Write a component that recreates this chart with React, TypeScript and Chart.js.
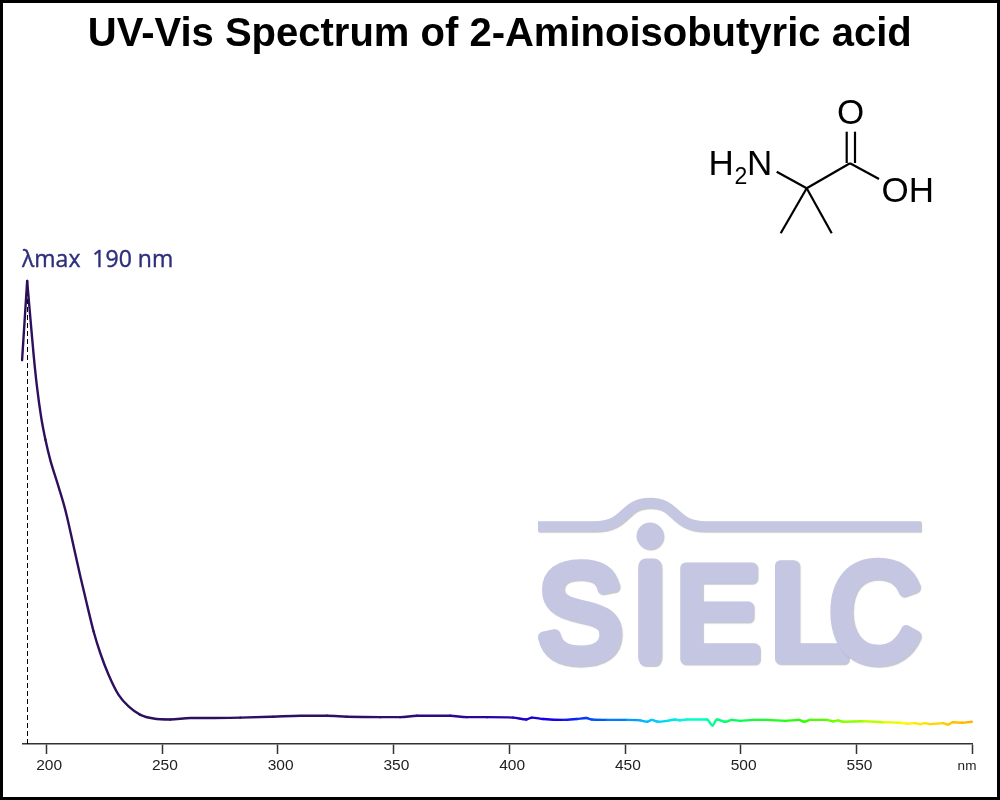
import React, { useEffect, useRef } from "react";
import { Chart, registerables } from "chart.js";

Chart.register(...registerables);

const TITLE = "UV-Vis Spectrum of 2-Aminoisobutyric acid";
const PEAK_LABEL = "λmax  190 nm";
const UNIT_LABEL = "nm";
const TICK_VALUES = [200, 250, 300, 350, 400, 450, 500, 550, 600];

const riseWavelengths = [189.5, 191.7];
const riseAbsorbance = [0.829, 1.0];

const wavelengths = [
  191.7, 193.1, 194.5, 196.0, 197.8, 199.6, 201.7, 204.6, 207.5, 208.9, 211.8, 214.7, 217.6, 220.4, 223.3,
  226.9, 231.2, 235.5, 240.6, 246.3, 253.5, 262.2, 269.4, 283.8, 298.0, 309.7, 321.2, 329.8, 344.2, 352.8, 360.1,
  374.4, 381.6, 390.3, 401.6, 407.3, 409.7, 414.6, 423.2, 429.1, 433.2, 435.6, 442.1, 450.7, 456.5, 459.6, 461.5,
  464.2, 468.0, 471.6, 473.7, 476.6, 485.3, 487.7, 489.6, 493.2, 496.1, 499.7, 505.3, 511.2, 519.1, 525.1, 527.3,
  529.9, 537.1, 539.8, 542.0, 544.1, 552.8, 561.4, 568.7, 571.6, 575.2, 577.4, 579.5, 581.7, 587.3, 589.3, 591.6,
  595.4, 599.7,
];
const absorbance = [
  1.0, 0.919, 0.84, 0.769, 0.704, 0.657, 0.613, 0.566, 0.518, 0.491, 0.426, 0.361, 0.3, 0.243, 0.196,
  0.149, 0.106, 0.081, 0.063, 0.055, 0.053, 0.056, 0.056, 0.057, 0.059, 0.061, 0.061, 0.059, 0.058, 0.058, 0.061,
  0.061, 0.058, 0.058, 0.057, 0.053, 0.057, 0.054, 0.052, 0.054, 0.056, 0.053, 0.052, 0.052, 0.051, 0.048, 0.052,
  0.048, 0.05, 0.053, 0.051, 0.053, 0.053, 0.04, 0.053, 0.048, 0.052, 0.05, 0.052, 0.052, 0.05, 0.052, 0.048,
  0.052, 0.052, 0.049, 0.051, 0.048, 0.049, 0.047, 0.046, 0.044, 0.045, 0.043, 0.045, 0.043, 0.045, 0.042, 0.047,
  0.046, 0.048,
];
const peakWavelength = [191.85, 191.85];
const peakDrop = [0, 1];

const spectrumStops: [number, number[]][] = [
  [190, [45, 15, 92]],
  [345, [45, 15, 100]],
  [385, [45, 5, 150]],
  [420, [20, 0, 235]],
  [440, [0, 90, 255]],
  [460, [0, 190, 255]],
  [478, [0, 255, 220]],
  [495, [0, 255, 100]],
  [525, [40, 255, 0]],
  [552, [160, 255, 0]],
  [570, [255, 250, 0]],
  [600, [255, 175, 0]],
];

function colourAt(w: number): string {
  let i = 0;
  while (i < spectrumStops.length - 2 && w > spectrumStops[i + 1][0]) i++;
  const [w0, c0] = spectrumStops[i];
  const [w1, c1] = spectrumStops[i + 1];
  const t = Math.min(1, Math.max(0, (w - w0) / (w1 - w0)));
  const c = c0.map((v, k) => Math.round(v + (c1[k] - v) * t));
  return `rgb(${c[0]},${c[1]},${c[2]})`;
}

const SANS = "'Liberation Sans', Arial, sans-serif";
const LOGO = "#c5c6e2";

function drawLetter(ctx: CanvasRenderingContext2D, ch: string, x0: number, y0: number, x1: number, y1: number, lw: number) {
  ctx.save();
  ctx.font = `100px ${SANS}`;
  ctx.textAlign = "left";
  ctx.textBaseline = "alphabetic";
  const m = ctx.measureText(ch);
  const gw = m.actualBoundingBoxLeft + m.actualBoundingBoxRight;
  const gh = m.actualBoundingBoxAscent + m.actualBoundingBoxDescent;
  const sx = (x1 - x0 - lw) / gw;
  const sy = (y1 - y0 - lw) / gh;
  ctx.translate(x0 + lw / 2 + m.actualBoundingBoxLeft * sx, y0 + lw / 2 + m.actualBoundingBoxAscent * sy);
  ctx.scale(sx, sy);
  ctx.lineWidth = lw / Math.sqrt(sx * sy);
  ctx.lineJoin = "round";
  ctx.strokeStyle = LOGO;
  ctx.fillStyle = LOGO;
  ctx.shadowColor = "rgba(90,90,90,0.35)";
  ctx.shadowOffsetX = 1;
  ctx.shadowOffsetY = 1;
  ctx.shadowBlur = 1;
  ctx.strokeText(ch, 0, 0);
  ctx.shadowColor = "transparent";
  ctx.fillText(ch, 0, 0);
  ctx.restore();
}

function drawLogo(ctx: CanvasRenderingContext2D) {
  ctx.save();
  ctx.strokeStyle = LOGO;
  ctx.fillStyle = LOGO;
  ctx.shadowColor = "rgba(90,90,90,0.35)";
  ctx.shadowOffsetX = 1;
  ctx.shadowOffsetY = 1;
  ctx.shadowBlur = 1;
  ctx.lineWidth = 10.5;
  ctx.beginPath();
  ctx.moveTo(538, 526.5);
  ctx.lineTo(594, 526.5);
  ctx.bezierCurveTo(628, 526.5, 622, 503, 650, 503);
  ctx.bezierCurveTo(678, 503, 672, 526.5, 706, 526.5);
  ctx.lineTo(921, 526.5);
  ctx.stroke();
  ctx.beginPath();
  ctx.arc(650, 536, 13.5, 0, Math.PI * 2);
  ctx.fill();
  ctx.restore();
  drawLetter(ctx, "S", 537, 559, 623, 667, 11);
  drawLetter(ctx, "I", 637, 560, 663, 665, 16);
  drawLetter(ctx, "E", 680, 562, 761, 664, 11);
  drawLetter(ctx, "L", 775, 560, 850, 664, 11);
  drawLetter(ctx, "C", 830, 559, 922, 667, 11);
}

function drawMolecule(ctx: CanvasRenderingContext2D) {
  ctx.save();
  ctx.strokeStyle = "#000";
  ctx.lineWidth = 2.2;
  ctx.lineCap = "butt";
  const bonds = [
    [776.7, 171.7, 806.7, 188.3],
    [806.7, 188.3, 850, 163.3],
    [850, 163.3, 879, 179],
    [806.7, 188.3, 780.7, 233.3],
    [806.7, 188.3, 831.7, 233.3],
    [846.7, 131.7, 846.7, 163],
    [855, 131.7, 855, 163],
  ];
  for (const [a, b, c, d] of bonds) {
    ctx.beginPath();
    ctx.moveTo(a, b);
    ctx.lineTo(c, d);
    ctx.stroke();
  }
  ctx.fillStyle = "#000";
  ctx.textBaseline = "alphabetic";
  ctx.font = `35px ${SANS}`;
  ctx.textAlign = "center";
  ctx.fillText("O", 850.7, 124);
  ctx.textAlign = "left";
  ctx.fillText("OH", 881.5, 201.5);
  ctx.fillText("H", 708.5, 175);
  ctx.fillText("N", 747, 175);
  ctx.font = `23px ${SANS}`;
  ctx.fillText("2", 734.5, 183.5);
  ctx.restore();
}

const decorPlugin = {
  id: "decor",
  afterLayout(chart: any) {
    chart.titleBlock.left += 2;
    chart.titleBlock.right += 2;
  },
  beforeDatasetsDraw(chart: any) {
    drawLogo(chart.ctx);
  },
  afterDraw(chart: any) {
    const ctx = chart.ctx as CanvasRenderingContext2D;
    drawMolecule(ctx);
    ctx.save();
    ctx.font = `23px 'Open Sans', sans-serif`;
    ctx.fillStyle = "#2e2f7c";
    ctx.strokeStyle = "#2e2f7c";
    ctx.lineWidth = 0.4;
    ctx.textAlign = "left";
    ctx.textBaseline = "alphabetic";
    ctx.fillText(PEAK_LABEL, 22, 267);
    ctx.strokeText(PEAK_LABEL, 22, 267);
    ctx.font = `13.5px ${SANS}`;
    ctx.fillStyle = "#222";
    ctx.textAlign = "center";
    ctx.fillText(UNIT_LABEL, 967, 770);
    ctx.strokeStyle = "#000";
    ctx.lineWidth = 3;
    ctx.strokeRect(1.5, 1.5, 997, 797);
    ctx.restore();
  },
};

const lineStyle = {
  borderWidth: 2.4,
  borderJoinStyle: "round",
  borderCapStyle: "round",
  pointRadius: 0,
  order: 1,
  clip: false,
};

export default function App() {
  const ref = useRef<HTMLCanvasElement>(null);
  useEffect(() => {
    if (!ref.current) return;
    const chart = new Chart(ref.current, {
      type: "line",
      data: {
        datasets: [
          {
            label: "Peak",
            data: peakWavelength.map((x, i) => ({ x, y: peakDrop[i] })),
            borderColor: "#000",
            borderWidth: 1,
            borderDash: [5, 3],
            pointRadius: 0,
            order: 2,
          },
          {
            ...lineStyle,
            label: "Rise",
            data: riseWavelengths.map((x, i) => ({ x, y: riseAbsorbance[i] })),
            borderColor: colourAt(190),
            tension: 0,
          },
          {
            ...lineStyle,
            label: "Absorbance",
            data: wavelengths.map((x, i) => ({ x, y: absorbance[i] })),
            borderColor: colourAt(190),
            cubicInterpolationMode: "monotone",
            segment: { borderColor: (c: any) => colourAt((c.p0.parsed.x + c.p1.parsed.x) / 2) },
          },
        ],
      },
      options: {
        responsive: false,
        animation: false,
        layout: { padding: { left: 23, right: 27.5, top: 0, bottom: 0 } },
        plugins: {
          legend: { display: false },
          tooltip: { enabled: false },
          title: {
            display: true,
            text: TITLE,
            color: "#000",
            font: { family: SANS, size: 40, weight: "bold", lineHeight: 1 },
            padding: { top: 14.5, bottom: -5 },
          },
        },
        scales: {
          x: {
            type: "linear",
            min: 190 - 0.1,
            max: 600,
            afterBuildTicks: (s: any) => {
              s.ticks = TICK_VALUES.map((value) => ({ value }));
            },
            afterFit: (s: any) => {
              s.height = 56;
            },
            border: { color: "#333", width: 1.5 },
            grid: { drawOnChartArea: false, drawTicks: true, tickLength: 10, tickColor: "#333", tickWidth: 1.5 },
            ticks: {
              maxRotation: 0,
              autoSkip: false,
              labelOffset: 2.7,
              padding: 2,
              color: "#222",
              font: { family: SANS, size: 15.5 },
              callback: (v: any) => (v === 600 ? "" : String(v)),
            },
          },
          y: { display: false, min: 0, max: 1.5 },
        },
      },
      plugins: [decorPlugin],
    } as any);
    return () => chart.destroy();
  }, []);
  return (
    <div style={{ position: "fixed", left: 0, top: 0, width: 1000, height: 800, background: "#fff" }}>
      <canvas ref={ref} width={1000} height={800} style={{ display: "block" }} />
    </div>
  );
}
